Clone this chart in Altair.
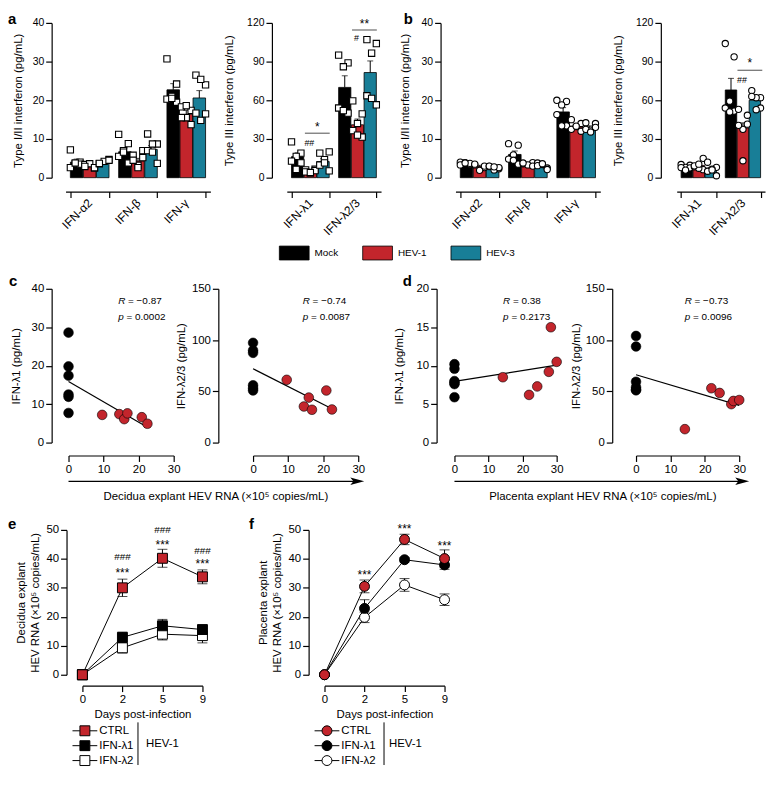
import altair as alt
import pandas as pd

FONT = "Liberation Sans"
RED = "#c3252c"
TEAL = "#187e97"
GROUPS = ["Mock", "HEV-1", "HEV-3"]
GROUP_COLORS = ["#000000", RED, TEAL]

# ---------------- panel a : decidua explants ----------------
a_typeI_cytokines = ["IFN-α2", "IFN-β", "IFN-γ"]
a_typeI_mean = {"Mock": [4.0, 6.7, 22.7], "HEV-1": [3.0, 4.3, 16.4], "HEV-3": [4.0, 7.3, 20.6]}
a_typeI_sem = {"Mock": [0.8, 1.0, 1.6], "HEV-1": [0.3, 0.7, 1.0], "HEV-3": [0.3, 1.0, 1.9]}
a_typeI_points = {
    "Mock": [[7.2, 4.0, 3.6, 2.6, 3.5, 3.8], [11.2, 8.8, 7.0, 5.5, 3.8, 6.6], [30.7, 24.2, 21.0, 20.3, 19.5, 20.5]],
    "HEV-1": [[3.4, 2.5, 3.6, 2.9, 2.6], [5.8, 7.0, 3.2, 4.5, 5.2, 2.6], [18.3, 17.4, 15.5, 15.5, 13.7, 18.6]],
    "HEV-3": [[3.6, 4.7, 4.2, 3.7, 4.5], [11.3, 8.7, 8.7, 7.0, 3.7, 6.6], [26.5, 24.0, 14.8, 16.7, 16.5, 25.4]],
}
a_typeIII_cytokines = ["IFN-λ1", "IFN-λ2/3"]
a_typeIII_mean = {"Mock": [16.3, 70.0], "HEV-1": [5.0, 41.0], "HEV-3": [12.5, 81.5]}
a_typeIII_sem = {"Mock": [3.0, 9.0], "HEV-1": [0.6, 4.5], "HEV-3": [2.3, 9.0]}
a_typeIII_points = {
    "Mock": [[27.8, 19.0, 16.5, 12.8, 11.5, 6.5], [95.0, 89.0, 86.0, 54.0, 50.0, 52.0]],
    "HEV-1": [[6.0, 6.5, 3.5, 4.5, 5.5, 4.0], [59.5, 49.5, 42.0, 36.5, 31.5, 33.0]],
    "HEV-3": [[19.0, 20.0, 14.0, 9.8, 5.3, 11.5], [107.0, 104.0, 96.5, 63.5, 56.5, 61.5]],
}
a_stars = {"cytokine": ["IFN-λ1", "IFN-λ2/3"], "text": ["*", "**"], "y": [36.5, 116.0]}
a_lines = {"cytokine": ["IFN-λ1", "IFN-λ2/3"], "y": [34.5, 114.5]}
a_hashes = {"cytokine": ["IFN-λ1", "IFN-λ2/3"], "text": ["##", "#"], "y": [24.5, 106.0]}

# ---------------- panel b : placenta explants ----------------
b_typeI_mean = {"Mock": [3.7, 6.0, 17.0], "HEV-1": [2.9, 3.5, 13.3], "HEV-3": [2.6, 3.1, 13.0]}
b_typeI_sem = {"Mock": [0.2, 0.9, 1.1], "HEV-1": [0.3, 0.2, 0.5], "HEV-3": [0.2, 0.3, 0.4]}
b_typeI_points = {
    "Mock": [[4.0, 3.5, 3.9, 3.3, 3.7, 3.8], [8.8, 8.4, 5.9, 4.8, 3.5, 4.5], [20.0, 19.7, 18.8, 16.3, 13.4, 13.4]],
    "HEV-1": [[3.3, 2.6, 1.9, 3.5, 3.0], [3.6, 3.9, 3.3, 3.8, 3.0], [15.0, 14.0, 13.2, 12.5, 12.0, 13.3]],
    "HEV-3": [[2.9, 2.3, 2.0, 3.0, 2.6, 2.8], [3.8, 2.5, 3.4, 3.1, 2.1, 3.6], [14.2, 14.0, 12.3, 12.5, 13.0, 11.8]],
}
b_typeIII_mean = {"Mock": [7.5, 68.0], "HEV-1": [9.5, 38.5], "HEV-3": [6.5, 60.0]}
b_typeIII_sem = {"Mock": [0.8, 9.0], "HEV-1": [1.2, 4.0], "HEV-3": [1.5, 2.0]}
b_typeIII_points = {
    "Mock": [[10.2, 9.6, 8.0, 7.8, 7.6, 5.9], [104.0, 93.7, 59.3, 54.0, 51.6, 51.0]],
    "HEV-1": [[8.5, 6.2, 7.3, 9.2, 15.0, 10.5], [53.0, 48.4, 37.5, 40.6, 41.5, 13.1]],
    "HEV-3": [[12.0, 8.0, 6.5, 5.0, 1.5, 6.0], [67.5, 62.0, 62.0, 63.0, 54.0, 52.7]],
}
b_stars = {"cytokine": ["IFN-λ2/3"], "text": ["*"], "y": [85.5]}
b_lines = {"cytokine": ["IFN-λ2/3"], "y": [83.3]}
b_hashes = {"cytokine": ["IFN-λ2/3"], "text": ["##"], "y": [73.5]}

# ---------------- panels c, d : correlations ----------------
mock_rna = [0, 0, 0, 0, 0, 0]
c_hev_rna = [9.6, 14.5, 15.9, 16.8, 20.9, 22.5]
c_ifnl1_mock = [28.6, 19.8, 17.4, 12.5, 11.9, 7.7]
c_ifnl1_hev = [7.2, 7.4, 6.1, 7.6, 6.6, 4.9]
c_ifnl23_mock = [97.3, 90.0, 87.5, 55.9, 53.0, 50.8]
c_ifnl23_hev = [61.2, 35.2, 43.9, 32.0, 50.8, 32.3]
c_stats_l1 = ["−0.87", "0.0002"]
c_stats_l23 = ["−0.74", "0.0087"]
d_hev_rna = [14.2, 21.9, 24.3, 27.7, 28.3, 30.0]
d_ifnl1_mock = [10.2, 9.6, 8.0, 7.8, 7.6, 5.9]
d_ifnl1_hev = [8.5, 6.2, 7.3, 9.2, 15.0, 10.5]
d_ifnl23_mock = [104.0, 93.7, 59.3, 54.0, 51.6, 51.0]
d_ifnl23_hev = [13.1, 53.0, 48.4, 37.5, 40.6, 41.5]
d_stats_l1 = ["0.38", "0.2173"]
d_stats_l23 = ["−0.73", "0.0096"]

# ---------------- panels e, f : kinetics ----------------
days = ["0", "2", "5", "9"]
series = ["CTRL", "IFN-λ1", "IFN-λ2"]
series_colors = [RED, "#000000", "#ffffff"]
e_mean = {"CTRL": [0, 30.0, 40.2, 33.8], "IFN-λ1": [0, 12.9, 16.9, 15.6], "IFN-λ2": [0, 9.3, 14.0, 13.5]}
e_sem = {"CTRL": [0, 3.0, 3.1, 2.4], "IFN-λ1": [0, 1.8, 2.2, 1.0], "IFN-λ2": [0, 1.8, 2.0, 2.5]}
f_mean = {"CTRL": [0, 30.5, 46.7, 40.1], "IFN-λ1": [0, 22.9, 39.7, 37.9], "IFN-λ2": [0, 19.8, 31.0, 25.9]}
f_sem = {"CTRL": [0, 2.2, 1.8, 3.0], "IFN-λ1": [0, 3.0, 0.8, 1.5], "IFN-λ2": [0, 1.8, 2.2, 2.0]}
e_sig = {"day": ["2", "2", "5", "5", "9", "9"], "text": ["###", "***", "###", "***", "###", "***"],
         "y": [39.6, 33.6, 48.8, 43.3, 41.6, 36.9]}
f_sig = {"day": ["2", "5", "9"], "text": ["***", "***", "***"], "y": [33.0, 48.8, 43.0]}

SPACER_DF = pd.DataFrame({"v": [0]})
FRAME_X = -55


def letter_layer(letter, dx, dy):
    return alt.Chart(SPACER_DF).mark_text(
        align="left", baseline="alphabetic", fontSize=15, fontWeight="bold", color="black"
    ).encode(x=alt.value(dx), y=alt.value(dy), text=alt.value(letter))


def spacer(w, h, letter=None, lx=0, ly=0):
    base = alt.Chart(SPACER_DF).mark_point(opacity=0, size=1).encode(x=alt.value(0), y=alt.value(0))
    if letter:
        return alt.layer(base, letter_layer(letter, lx, ly)).properties(width=w, height=h)
    return base.properties(width=w, height=h)


def lead(w, h, top, bottom, letter=None, lx=0, ly=0):
    # invisible frame that fixes the extent of a row, plus the row's first panel letter
    frame = alt.Chart(SPACER_DF).mark_rule(opacity=0, strokeWidth=0.01).encode(
        x=alt.value(FRAME_X), y=alt.value(top), y2=alt.value(bottom))
    if letter:
        return alt.layer(frame, letter_layer(letter, lx, ly)).properties(width=w, height=h)
    return frame.properties(width=w, height=h)


def y_axis(values, title, offset, title_x, label_size):
    return alt.Axis(values=values, title=title, offset=offset, tickSize=6, labelFontSize=label_size,
                    titleFontSize=11.5, titleX=title_x, titleAlign="center", titleBaseline="middle")


def bar_panel(cytokines, means, sems, points, ymax, ystep, width, height, ytitle, shape,
              yoffset, ytitle_x, legend=None, stars=None, lines=None, hashes=None):
    bar_rows = []
    for g in GROUPS:
        for c, m, s in zip(cytokines, means[g], sems[g]):
            bar_rows.append({"cytokine": c, "group": g, "mean": m, "upper": m + s})
    bars = pd.DataFrame(bar_rows)
    pt_rows = []
    for g in GROUPS:
        for c, vals in zip(cytokines, points[g]):
            for v in vals:
                pt_rows.append({"cytokine": c, "group": g, "value": v})
    pts = pd.DataFrame(pt_rows)

    x_enc = alt.X("cytokine:N", sort=cytokines,
                  scale=alt.Scale(domain=cytokines, paddingInner=0.2, paddingOuter=0.1),
                  axis=alt.Axis(title=None, labelAngle=-45, labelAlign="right", labelBaseline="middle",
                                tickBand="extent", offset=14, labelFontSize=12, labelPadding=3, tickSize=6))
    ysc = alt.Scale(domain=[0, ymax], nice=False)
    yax = y_axis(list(range(0, ymax + 1, ystep)), ytitle, yoffset, ytitle_x, 10.5)

    def Y(f):
        return alt.Y(f, scale=ysc, axis=yax)

    off = alt.XOffset("group:N", scale=alt.Scale(domain=GROUPS, paddingInner=0.04, paddingOuter=0))
    base_b = alt.Chart(bars)
    bar = base_b.mark_bar(stroke="black", strokeWidth=0.8).encode(
        x=x_enc, xOffset=off, y=Y("mean:Q"),
        fill=alt.Fill("group:N", scale=alt.Scale(domain=GROUPS, range=GROUP_COLORS), legend=legend))
    err = base_b.mark_rule(color="black", strokeWidth=1).encode(
        x=x_enc, xOffset=off, y=Y("mean:Q"), y2="upper:Q")
    cap = base_b.mark_tick(orient="horizontal", size=6, thickness=1, color="black").encode(
        x=x_enc, xOffset=off, y=Y("upper:Q"))
    slots = [f"{g}|{k}" for g in GROUPS for k in (1, 0, 2)]
    pt = alt.Chart(pts).transform_window(
        rn="row_number()", groupby=["cytokine", "group"]
    ).transform_calculate(
        slot="datum.group + '|' + (datum.rn % 3)"
    ).mark_point(shape=shape, filled=True, fill="white", stroke="black", strokeWidth=1.1,
                 size=40, opacity=1).encode(
        x=x_enc,
        xOffset=alt.XOffset("slot:N", scale=alt.Scale(domain=slots, paddingInner=0, paddingOuter=0)),
        y=Y("value:Q"))
    layers = [bar, err, cap, pt]
    if stars:
        layers.append(alt.Chart(pd.DataFrame(stars)).mark_text(
            dx=7, fontSize=12, baseline="alphabetic", color="black").encode(
            x=x_enc, y=Y("y:Q"), text="text:N"))
    if lines:
        layers.append(alt.Chart(pd.DataFrame(lines)).mark_tick(
            orient="horizontal", size=25, thickness=1, color="black", xOffset=7).encode(
            x=x_enc, y=Y("y:Q")))
    if hashes:
        layers.append(alt.Chart(pd.DataFrame(hashes)).mark_text(
            dx=-1, fontSize=9, baseline="alphabetic", color="black").encode(
            x=x_enc, y=Y("y:Q"), text="text:N"))
    return alt.layer(*layers).resolve_scale(xOffset="independent").properties(width=width, height=height)


def scatter_panel(y_mock, x_hev, y_hev, ymax, ystep, width, height, ytitle, yoffset, ytitle_x, stats, stat_x,
                  xtitle=None, xtitle_x=0, arrow_tip=None):
    df = pd.DataFrame({"rna": mock_rna + x_hev, "ifn": y_mock + y_hev,
                       "group": ["Mock"] * len(y_mock) + ["HEV-1"] * len(y_hev)})
    xax_kw = dict(values=[0, 10, 20, 30], offset=13, tickSize=6, labelFontSize=11.5)
    if xtitle:
        xax_kw.update(title=xtitle, titleX=xtitle_x, titleY=41, titleAlign="center",
                      titleBaseline="middle", titleFontSize=11.5)
    else:
        xax_kw.update(title=None)
    x_enc = alt.X("rna:Q", scale=alt.Scale(domain=[0, 30], nice=False), axis=alt.Axis(**xax_kw))
    ysc = alt.Scale(domain=[0, ymax], nice=False)
    yax = y_axis(list(range(0, ymax + 1, ystep)), ytitle, yoffset, ytitle_x, 11.5)

    reg = alt.Chart(df).transform_regression("rna", "ifn").mark_line(
        color="black", strokeWidth=1.2).encode(x=x_enc, y=alt.Y("ifn:Q", scale=ysc, axis=yax))
    pts = alt.Chart(df).mark_point(filled=True, size=95, stroke="black", strokeWidth=0.6, opacity=1).encode(
        x=x_enc, y=alt.Y("ifn:Q", scale=ysc, axis=yax),
        fill=alt.Fill("group:N", scale=alt.Scale(domain=["Mock", "HEV-1"], range=["#000000", RED]), legend=None))
    layers = [reg, pts]
    for i, (lab, val, dxv) in enumerate([("R", stats[0], 10), ("p", stats[1], 8.5)]):
        yy = 12 + 16 * i
        layers.append(alt.Chart(SPACER_DF).mark_text(
            align="left", baseline="middle", fontSize=10, fontStyle="italic", color="black").encode(
            x=alt.value(stat_x), y=alt.value(yy), text=alt.value(lab)))
        layers.append(alt.Chart(SPACER_DF).mark_text(
            align="left", baseline="middle", fontSize=10, color="black").encode(
            x=alt.value(stat_x + dxv), y=alt.value(yy), text=alt.value("= " + val)))
    if arrow_tip is not None:
        ay = height + 39
        layers.append(alt.Chart(SPACER_DF).mark_rule(color="black", strokeWidth=1.3).encode(
            x=alt.value(0), x2=alt.value(arrow_tip - 8), y=alt.value(ay)))
        layers.append(alt.Chart(SPACER_DF).mark_point(
            shape="M1,0L-1,-0.55L-0.55,0L-1,0.55Z", filled=True, color="black", size=196, opacity=1).encode(
            x=alt.value(arrow_tip - 7), y=alt.value(ay)))
    return alt.layer(*layers).properties(width=width, height=height)


def kinetics_panel(means, sems, shape, sym_path, ytitle, sig, bar_x, text_x, height):
    rows = []
    for s in reversed(series):
        for d, m, e in zip(days, means[s], sems[s]):
            rows.append({"day": d, "series": s, "mean": m, "lo": m - e, "hi": m + e, "sem": e})
    df = pd.DataFrame(rows)
    x_enc = alt.X("day:O", scale=alt.Scale(type="point", domain=days, padding=0),
                  axis=alt.Axis(labelAngle=0, offset=11, title="Days post-infection", tickSize=6,
                                labelFontSize=11.5, titleFontSize=11.5, titlePadding=4))
    ysc = alt.Scale(domain=[0, 50], nice=False)
    yax = y_axis([0, 10, 20, 30, 40, 50], ytitle, 16, -45, 11.5)

    def Y(f):
        return alt.Y(f, scale=ysc, axis=yax)

    base = alt.Chart(df)
    errdf = base.transform_filter("datum.sem > 0")
    err = errdf.mark_rule(color="black", strokeWidth=1).encode(x=x_enc, y=Y("lo:Q"), y2="hi:Q", detail="series:N")
    cap_hi = errdf.mark_tick(orient="horizontal", size=10, thickness=1, color="black").encode(x=x_enc, y=Y("hi:Q"))
    cap_lo = errdf.mark_tick(orient="horizontal", size=10, thickness=1, color="black").encode(x=x_enc, y=Y("lo:Q"))
    line = base.mark_line(color="black", strokeWidth=1).encode(x=x_enc, y=Y("mean:Q"), detail="series:N")
    ly = height + 49
    pts = base.mark_point(shape=shape, filled=True, size=100, stroke="black", strokeWidth=1, opacity=1).encode(
        x=x_enc, y=Y("mean:Q"),
        fill=alt.Fill("series:N", scale=alt.Scale(domain=series, range=series_colors),
                      legend=alt.Legend(orient="none", legendX=-5, legendY=ly, title=None,
                                        symbolType=sym_path, symbolSize=196, symbolStrokeColor="black",
                                        symbolStrokeWidth=1, symbolOpacity=1, labelFontSize=11.5,
                                        labelOffset=7, rowPadding=0, padding=0)))
    sig_df = pd.DataFrame(sig)
    sig_hash = alt.Chart(sig_df).transform_filter("datum.text == '###'").mark_text(
        fontSize=10, baseline="alphabetic", color="black").encode(x=x_enc, y=Y("y:Q"), text="text:N")
    sig_star = alt.Chart(sig_df).transform_filter("datum.text == '***'").mark_text(
        fontSize=12, baseline="alphabetic", color="black").encode(x=x_enc, y=Y("y:Q"), text="text:N")
    vbar = alt.Chart(SPACER_DF).mark_rule(color="black", strokeWidth=1).encode(
        x=alt.value(bar_x), y=alt.value(ly - 1), y2=alt.value(ly + 42))
    hev = alt.Chart(SPACER_DF).mark_text(align="left", baseline="middle", fontSize=11.5, color="black").encode(
        x=alt.value(text_x), y=alt.value(ly + 21), text=alt.value("HEV-1"))
    layers = [err, cap_hi, cap_lo, line, pts, sig_star, sig_hash, vbar, hev]
    return alt.layer(*layers).properties(width=121, height=height)


H1, H2, H3 = 156, 155, 146

A1 = bar_panel(a_typeI_cytokines, a_typeI_mean, a_typeI_sem, a_typeI_points, 40, 10, 146, H1,
               "Type I/II interferon (pg/mL)", "square", 14, -33).properties(
    title=alt.TitleParams("a", anchor="start", frame="group", orient="top", dx=-58, dy=7, offset=-14,
                          fontSize=15, fontWeight="bold", baseline="alphabetic", color="black"))
A2 = bar_panel(a_typeIII_cytokines, a_typeIII_mean, a_typeIII_sem, a_typeIII_points, 120, 30, 95, H1,
               "Type III interferon (pg/mL)", "square", 15, -43,
               legend=alt.Legend(orient="none", legendX=0, legendY=224, direction="horizontal", title=None,
                                 symbolType="M-2.143,-1H2.143V1H-2.143Z", symbolSize=196,
                                 symbolStrokeColor="black", symbolStrokeWidth=0.8, symbolOpacity=1,
                                 labelFontSize=10, labelOffset=13, columnPadding=22, padding=0),
               stars=a_stars, lines=a_lines, hashes=a_hashes)
B1 = bar_panel(a_typeI_cytokines, b_typeI_mean, b_typeI_sem, b_typeI_points, 40, 10, 146, H1,
               "Type I/II interferon (pg/mL)", "circle", 15, -35)
B2 = bar_panel(a_typeIII_cytokines, b_typeIII_mean, b_typeIII_sem, b_typeIII_points, 120, 30, 89, H1,
               "Type III interferon (pg/mL)", "circle", 16, -43,
               stars=b_stars, lines=b_lines, hashes=b_hashes)

C1 = scatter_panel(c_ifnl1_mock, c_hev_rna, c_ifnl1_hev, 40, 10, 106, H2, "IFN-λ1 (pg/mL)", 17, -35,
                   c_stats_l1, 50, xtitle="Decidua explant HEV RNA (×10⁵ copies/mL)", xtitle_x=148, arrow_tip=298)
C2 = scatter_panel(c_ifnl23_mock, c_hev_rna, c_ifnl23_hev, 150, 50, 106, H2, "IFN-λ2/3 (pg/mL)", 35, -37,
                   c_stats_l23, 50)
D1 = scatter_panel(d_ifnl1_mock, d_hev_rna, d_ifnl1_hev, 20, 5, 103, H2, "IFN-λ1 (pg/mL)", 18, -37,
                   d_stats_l1, 49, xtitle="Placenta explant HEV RNA (×10⁵ copies/mL)", xtitle_x=149, arrow_tip=297)
D2 = scatter_panel(d_ifnl23_mock, d_hev_rna, d_ifnl23_hev, 150, 50, 104, H2, "IFN-λ2/3 (pg/mL)", 24, -36,
                   d_stats_l23, 49)

SQ_PATH = "M-1.786,0H-0.714M0.714,0H1.786M-0.714,-0.714H0.714V0.714H-0.714Z"
CI_PATH = "M-1.786,0H-0.714M0.714,0H1.786M-0.714,0A0.714,0.714,0,1,1,0.714,0A0.714,0.714,0,1,1,-0.714,0Z"
E = kinetics_panel(e_mean, e_sem, "square", SQ_PATH, ["Decidua explant", "HEV RNA (×10⁵ copies/mL)"],
                   e_sig, 56, 64, H3)
F = kinetics_panel(f_mean, f_sem, "circle", CI_PATH, ["Placenta explant", "HEV RNA (×10⁵ copies/mL)"],
                   f_sig, 60, 65, H3)

IND = dict(fill="independent", xOffset="independent")

row1 = alt.hconcat(lead(1, H1, -12, 244), A1, spacer(73, H1), A2,
                   spacer(71, H1, "b", 21, 1), B1, spacer(73, H1), B2,
                   spacing=2, bounds="flush").resolve_scale(**IND)
row2 = alt.hconcat(lead(4, H2, -24, 222, "c", -54, -3), C1, spacer(76, H2), C2,
                   spacer(93, H2, "d", 43, -3), D1, spacer(76, H2), D2,
                   spacing=2, bounds="flush").resolve_scale(**IND)
row3 = alt.hconcat(lead(18, H3, -21, 237, "e", -55, -1), E, spacer(119, H3, "f", 45, -1), F,
                   spacing=2, bounds="flush").resolve_scale(**IND)

chart = alt.vconcat(row1, row2, row3, spacing=0).resolve_scale(**IND).properties(padding=0).configure(
    font=FONT
).configure_view(stroke=None).configure_axis(
    grid=False, domainColor="black", tickColor="black", labelColor="black", titleColor="black",
    domainWidth=1.2, tickWidth=1.2, titleFontWeight="normal", labelFlush=False, labelOverlap=False,
    labelFont=FONT, titleFont=FONT
).configure_text(font=FONT).configure_legend(labelFont=FONT, labelColor="black")

chart.save("out.html", embed_options={"renderer": "svg", "actions": False})
